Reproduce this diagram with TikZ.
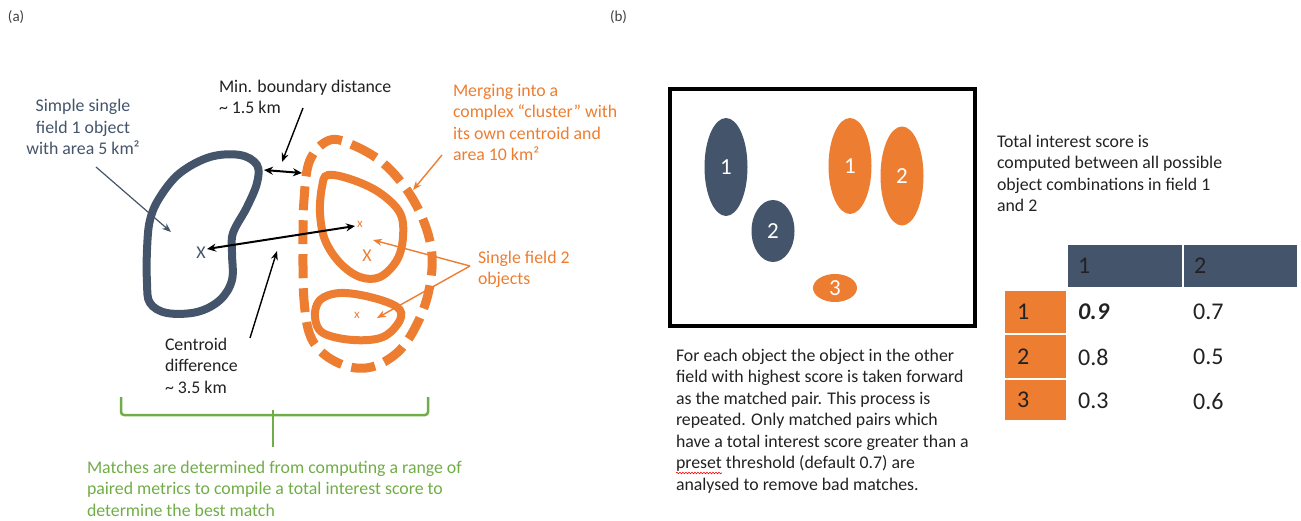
\documentclass[tikz,border=0pt]{standalone}
\usepackage{fontspec}
\setmainfont{Carlito}
\usetikzlibrary{arrows.meta,shapes.geometric,decorations.pathmorphing}
\definecolor{slate}{HTML}{44546A}
\definecolor{org}{HTML}{ED7D31}
\definecolor{grn}{HTML}{70AD47}
\definecolor{txt}{HTML}{222222}
\begin{document}
\begin{tikzpicture}[x=1pt,y=-1pt,
  lbl/.style={inner sep=0pt, outer sep=0pt, font=\fontsize{17.8}{21.5}\selectfont, text=txt, align=left, anchor=base west},
  thinarrow/.style={line width=1.4pt, -{Stealth[length=9pt,width=7pt]}},
  dblarrow/.style={line width=2pt, {Stealth[length=9pt,width=8pt]}-{Stealth[length=9pt,width=8pt]}},
  blob/.style={line width=8pt},
  obj/.style={ellipse, inner sep=0pt, text=white, font=\fontsize{23}{23}\selectfont},
  hcell/.style={rectangle, fill=slate, inner xsep=10pt, inner ysep=0pt, text width=94pt, minimum height=42pt, align=left, font=\fontsize{24}{24}\selectfont, text=txt},
  ocell/.style={rectangle, fill=org, inner xsep=12pt, inner ysep=0pt, text width=37pt, align=left, font=\fontsize{24}{24}\selectfont, text=txt},
  val/.style={inner sep=0pt, anchor=west, font=\fontsize{24}{24}\selectfont, text=txt},
  cmark/.style={inner sep=0pt}
]
\useasboundingbox (0,0) rectangle (1301,521);

% ---------- panel labels
\node[lbl, font=\fontsize{15}{18}\selectfont, text=black!75] (la) at (8,22) {(a)};
\node[lbl, font=\fontsize{15}{18}\selectfont, text=black!75] (lb) at (610,22) {(b)};

% ---------- panel (a) shapes
\draw[slate, blob] plot[smooth cycle, tension=0.6] coordinates {(257,165) (240,155) (210,157) (180,173) (160,197) (150,220) (147,250) (147,283) (150,303) (167,313) (197,312) (220,300) (232,280) (232,253) (233,233) (247,207) (257,183)};
\draw[org, blob] plot[smooth cycle, tension=0.6] coordinates {(328,175) (353,180) (380,193) (400,213) (403,237) (397,260) (380,277) (360,277) (340,263) (325,240) (320,213) (322,187)};
\draw[org, blob] plot[smooth cycle, tension=0.6] coordinates {(320,300) (340,293) (370,297) (397,307) (400,320) (383,337) (353,340) (323,333) (315,317)};
\draw[org, line width=9pt, dash pattern=on 24pt off 10pt] plot[smooth cycle, tension=0.6] coordinates {(330,140) (355,146) (383,163) (407,190) (424,222) (432,255) (429,290) (418,322) (400,350) (375,366) (350,367) (325,355) (310,335) (304,300) (303,250) (304,200) (310,160)};

% centroid marks
\node[cmark, text=slate, font=\fontsize{18}{18}\selectfont] (X1) at (201,253) {X};
\node[cmark, text=org, font=\fontsize{13}{13}\selectfont] (x2) at (360,224) {x};
\node[cmark, text=org, font=\fontsize{18}{18}\selectfont] (X2) at (367,256) {X};
\node[cmark, text=org, font=\fontsize{13}{13}\selectfont] (x3) at (357,315) {x};

% ---------- panel (a) labels (anchor = baseline of last line)
\node[lbl, text=slate, align=center, anchor=base] (simple) at (83,155) {Simple single\\field 1 object\\with area 5 km²};
\node[lbl] (minb) at (219,114) {Min. boundary distance\\\textasciitilde{} 1.5 km};
\node[lbl, text=org] (merge) at (453,161) {Merging into a\\complex “cluster” with\\its own centroid and\\area 10 km²};
\node[lbl, text=org] (single2) at (478,285) {Single field 2\\objects};
\node[lbl] (centr) at (165,393) {Centroid\\difference\\\textasciitilde{} 3.5 km};
\node[lbl, text=grn] (matches) at (87,516) {Matches are determined from computing a range of\\paired metrics to compile a total interest score to\\determine the best match};

% ---------- panel (a) connectors
\coordinate (s1) at (96,167);  \coordinate (s2) at (171,232);
\draw[slate, thinarrow, line width=1.2pt] (s1) -- (s2);
\coordinate (m1) at (303,108); \coordinate (m2) at (282,162);
\draw[thinarrow] (m1) -- (m2);
\coordinate (d1) at (264,170); \coordinate (d2) at (302,173);
\draw[dblarrow] (d1) -- (d2);
\coordinate (c1) at (207,249); \coordinate (c2) at (355,226);
\draw[dblarrow] (c1) -- (c2);
\coordinate (cd1) at (250,338); \coordinate (cd2) at (277,251);
\draw[thinarrow] (cd1) -- (cd2);
\coordinate (g1) at (442,155); \coordinate (g2) at (413,190);
\draw[org, thinarrow] (g1) -- (g2);
\coordinate (f0) at (470,266); \coordinate (f1) at (373,240); \coordinate (f2) at (377,318);
\draw[org, thinarrow] (f0) -- (f1);
\draw[org, thinarrow] (f0) -- (f2);

% green brace
\coordinate (bl) at (121,397); \coordinate (br) at (428,397); \coordinate (bs) at (273,447);
\draw[grn, line width=2.5pt, rounded corners=3pt] (bl) -- (121,415) -- (428,415) -- (br);
\draw[grn, line width=2.5pt] (273,410) -- (bs);

% ---------- panel (b)
\draw[black, line width=4pt] (670,89) rectangle (975,326);
\node[obj, fill=slate, minimum width=43pt, minimum height=98pt] (s1o) at (726,167) {1};
\node[obj, fill=slate, minimum width=43pt, minimum height=62pt] (s2o) at (773,231) {2};
\node[obj, fill=org, minimum width=43pt, minimum height=96pt] (o1) at (850,166) {1};
\node[obj, fill=org, minimum width=43pt, minimum height=99pt] (o2) at (902,176) {2};
\node[obj, fill=org, minimum width=44pt, minimum height=28pt] (o3) at (835,288) {3};

\node[lbl] (total) at (997,212) {Total interest score is\\computed between all possible\\object combinations in field 1\\and 2};

% table
\node[hcell] (h1) at (1125,266) {1};
\node[hcell, text width=93pt] (h2) at (1240.5,266) {2};
\node[ocell, minimum height=42pt] (r1) at (1035.5,312) {1};
\node[ocell, minimum height=43pt] (r2) at (1035.5,356.5) {2};
\node[ocell, minimum height=40pt] (r3) at (1035.5,400) {3};
\node[val, font=\fontsize{24}{24}\selectfont\bfseries\itshape] (v11) at (1078,312) {0.9};
\node[val] (v12) at (1193,312) {0.7};
\node[val] (v21) at (1078,357) {0.8};
\node[val] (v22) at (1193,357) {0.5};
\node[val] (v31) at (1078,401) {0.3};
\node[val] (v32) at (1193,401) {0.6};

\node[lbl] (para) at (676,490) {For each object the object in the other\\field with highest score is taken forward\\as the matched pair. This process is\\repeated. Only matched pairs which\\have a total interest score greater than a\\preset threshold (default 0.7) are\\analysed to remove bad matches.};
\coordinate (q1) at (676,473); \coordinate (q2) at (722,473);
\draw[red, line width=0.6pt, decorate, decoration={snake, amplitude=0.8pt, segment length=3pt}] (q1) -- (q2);
\end{tikzpicture}
\end{document}
